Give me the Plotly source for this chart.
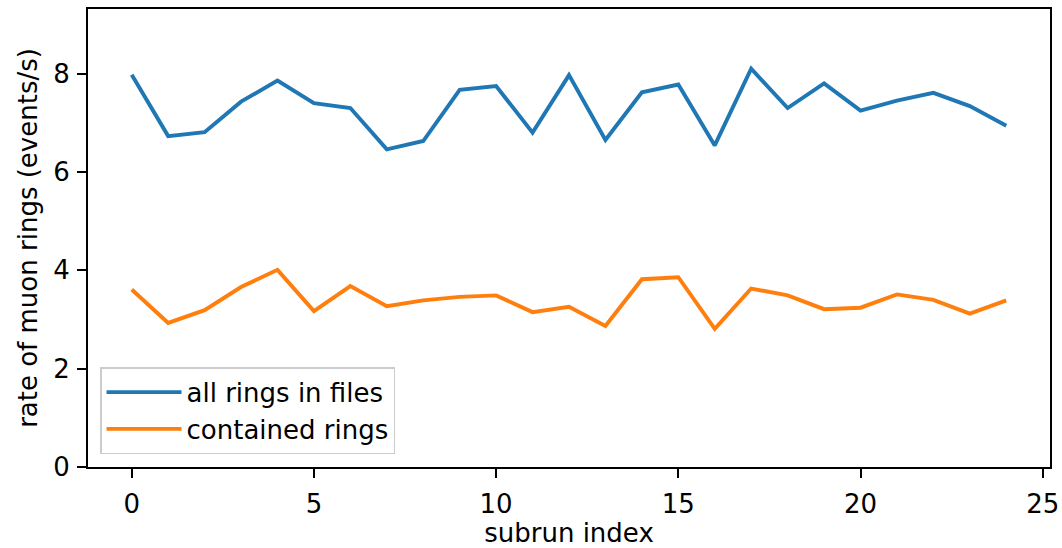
import plotly.graph_objects as go

subrun = list(range(25))
all_rings = [7.98, 6.73, 6.81, 7.43, 7.86, 7.40, 7.30, 6.46, 6.63, 7.67,
             7.75, 6.80, 7.97, 6.65, 7.62, 7.78, 6.54, 8.10, 7.30, 7.80,
             7.25, 7.45, 7.61, 7.34, 6.94]
contained = [3.61, 2.93, 3.19, 3.66, 4.01, 3.17, 3.68, 3.27, 3.39, 3.46,
             3.49, 3.15, 3.26, 2.87, 3.82, 3.86, 2.81, 3.63, 3.49, 3.21,
             3.24, 3.51, 3.40, 3.12, 3.39]
series_names = ["all rings in files", "contained rings"]
x_ticks = [0, 5, 10, 15, 20, 25]
y_ticks = [0, 2, 4, 6, 8]

FONT = "DejaVu Sans"
FS = 26

fig = go.Figure()
fig.add_trace(go.Scatter(x=subrun, y=all_rings, mode="lines", name=series_names[0],
                         line=dict(color="#1f77b4", width=3.9)))
fig.add_trace(go.Scatter(x=subrun, y=contained, mode="lines", name=series_names[1],
                         line=dict(color="#ff7f0e", width=3.9)))

n = len(subrun) - 1
ymax = max(all_rings) * 1.15

axis_common = dict(
    showgrid=False, zeroline=False, showline=True, linecolor="black", linewidth=2,
    mirror=True, ticks="outside", ticklen=9, tickwidth=2, tickcolor="black",
    tickfont=dict(family=FONT, size=FS, color="black"), automargin=False,
)

fig.update_xaxes(range=[-0.05 * n, n + 0.05 * n], tickvals=x_ticks,
                 title=dict(text="subrun index", font=dict(family=FONT, size=FS, color="black"),
                            standoff=8),
                 ticklabelstandoff=4, **axis_common)
fig.update_yaxes(range=[0, ymax], tickvals=y_ticks,
                 title=dict(text="rate of muon rings (events/s)",
                            font=dict(family=FONT, size=FS, color="black"), standoff=8),
                 ticklabelstandoff=2, **axis_common)

fig.update_layout(
    width=1062, height=548,
    margin=dict(l=88, r=12, t=9, b=81),
    plot_bgcolor="white", paper_bgcolor="white",
    font=dict(family=FONT, size=FS, color="black"),
    legend=dict(x=0.0125, y=0.028, xanchor="left", yanchor="bottom",
                bgcolor="rgba(255,255,255,0.8)", bordercolor="#cccccc", borderwidth=1.5,
                font=dict(family=FONT, size=FS, color="black"),
                itemwidth=75, tracegroupgap=0),
)

fig.write_html("out.html")
